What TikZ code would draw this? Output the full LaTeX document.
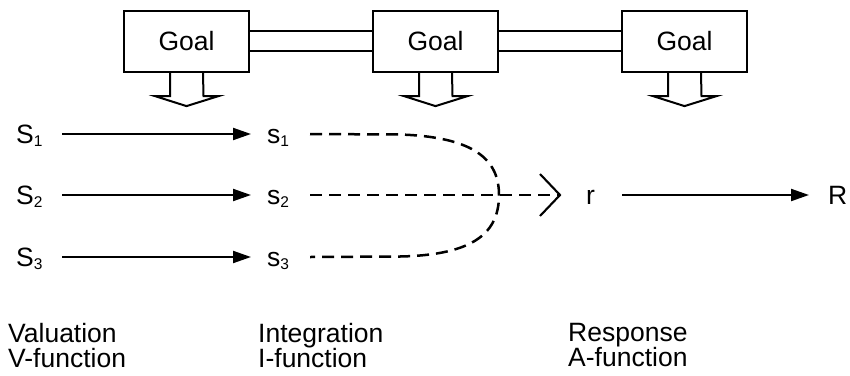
\documentclass[tikz,border=0pt]{standalone}
\usepackage{fontspec}
\setmainfont{Liberation Sans}
\usetikzlibrary{arrows.meta}
\newcommand{\sbx}[1]{\raisebox{-3pt}{\fontsize{15.5}{15.5}\selectfont #1}}
\begin{document}
\begin{tikzpicture}[x=1pt,y=-1pt,
  goalbox/.style={draw,line width=2.2pt,minimum width=125pt,minimum height=61pt,inner sep=0pt,font=\fontsize{26.5}{28}\selectfont},
  lbl/.style={inner sep=0pt,anchor=base west,font=\fontsize{26.5}{28}\selectfont},
  botlbl/.style={inner sep=0pt,anchor=north west,align=left,font=\fontsize{26.5}{25}\selectfont},
  solidarr/.style={line width=2.1pt,-{Triangle[length=18pt,width=12pt]}},
  dashln/.style={line width=2.5pt,dash pattern=on 12pt off 7pt},
  hollow/.style={draw,line width=2pt,fill=white,line join=miter}
]
\useasboundingbox (0,0) rectangle (850,375);
% goal boxes
\node[goalbox] (g1) at (186.5,41.5) {Goal};
\node[goalbox] (g2) at (435.5,41.5) {Goal};
\node[goalbox] (g3) at (684.5,41.5) {Goal};
% double links
\foreach \a/\b in {g1/g2,g2/g3}{
  \draw[line width=2.2pt] ([yshift=-9.5pt]\a.east) -- ([yshift=-9.5pt]\b.west);
  \draw[line width=2.2pt] ([yshift=10.5pt]\a.east) -- ([yshift=10.5pt]\b.west);
}
% hollow arrows
\foreach \g in {g1,g2,g3}{
  \draw[hollow] ([xshift=-16.5pt]\g.south) -- ++(0,23) -- ++(-15,0) -- ([yshift=-33pt]\g.south) -- ++(32,-10) -- ++(-15,0) -- ([xshift=16.5pt]\g.south);
}
% row labels
\node[lbl] (S1) at (16,143) {S\sbx{1}};
\node[lbl] (S2) at (16,204) {S\sbx{2}};
\node[lbl] (S3) at (16,266) {S\sbx{3}};
\node[lbl] (s1) at (267,143) {s\sbx{1}};
\node[lbl] (s2) at (267,204) {s\sbx{2}};
\node[lbl] (s3) at (267,266) {s\sbx{3}};
\node[lbl] (r) at (586,204) {r};
\node[lbl] (R) at (828,204) {R};
% coordinates
\coordinate (S1e) at (62,134); \coordinate (s1w) at (251,134);
\coordinate (S2e) at (62,195); \coordinate (s2w) at (251,195);
\coordinate (S3e) at (62,257); \coordinate (s3w) at (251,257);
\draw[solidarr] (S1e) -- (s1w);
\draw[solidarr] (S2e) -- (s2w);
\draw[solidarr] (S3e) -- (s3w);
% dashed integration
\coordinate (d1) at (310,134);
\coordinate (d2) at (310,195);
\coordinate (d3) at (310,257);
\coordinate (rtip) at (560,195);
\draw[dashln] (d1) -- (400,134.5) .. controls (475,137) and (499,160) .. (499,195)
      .. controls (499,232) and (475,255) .. (400,256.5) -- (d3);
\draw[dashln] (d2) -- (rtip);
\draw[line width=2.1pt] (540,174) -- (rtip) -- (540,216);
% response arrow
\coordinate (re) at (622,195); \coordinate (Rw) at (809,195);
\draw[solidarr] (re) -- (Rw);
% bottom labels
\node[botlbl] (v) at (8,323) {Valuation\\V-function};
\node[botlbl] (i) at (258,323) {Integration\\I-function};
\node[botlbl] (a) at (568,323) {Response\\A-function};
\end{tikzpicture}
\end{document}
